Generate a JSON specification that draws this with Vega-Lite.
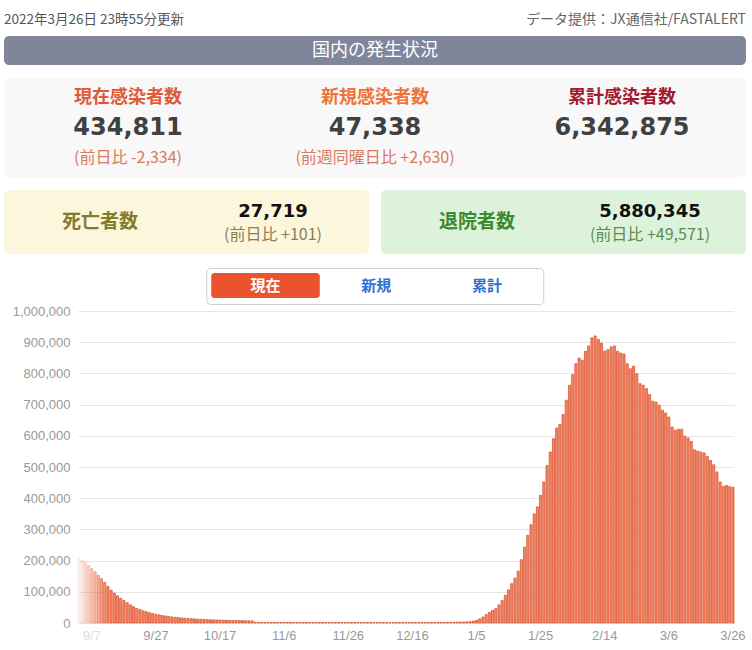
{
"$schema":"https://vega.github.io/schema/vega-lite/v6.json",
"background":"white",
"padding":{"left":4,"top":0,"right":0,"bottom":0},
"config":{"view":{"stroke":null},"font":"Noto Sans CJK JP"},
"datasets":{
"kpi":[{"k":"a","label":"現在感染者数","value":"434,811","sub":"(前日比 -2,334)"},{"k":"b","label":"新規感染者数","value":"47,338","sub":"(前週同曜日比 +2,630)"},{"k":"c","label":"累計感染者数","value":"6,342,875","sub":""}],
"cases":[
{"d":"2021-09-03","v":208000},{"d":"2021-09-04","v":201000},{"d":"2021-09-05","v":194000},{"d":"2021-09-06","v":184000},{"d":"2021-09-07","v":174000},{"d":"2021-09-08","v":164000},{"d":"2021-09-09","v":153000},{"d":"2021-09-10","v":142000},{"d":"2021-09-11","v":130000},{"d":"2021-09-12","v":117000},{"d":"2021-09-13","v":105000},{"d":"2021-09-14","v":96000},{"d":"2021-09-15","v":87000},{"d":"2021-09-16","v":79000},{"d":"2021-09-17","v":72000},{"d":"2021-09-18","v":65000},{"d":"2021-09-19","v":58000},{"d":"2021-09-20","v":52000},{"d":"2021-09-21","v":47000},{"d":"2021-09-22","v":43000},{"d":"2021-09-23","v":39000},{"d":"2021-09-24","v":36000},{"d":"2021-09-25","v":33000},{"d":"2021-09-26","v":30000},{"d":"2021-09-27","v":28000},{"d":"2021-09-28","v":26000},{"d":"2021-09-29","v":24000},{"d":"2021-09-30","v":22500},
{"d":"2021-10-01","v":21000},{"d":"2021-10-02","v":19500},{"d":"2021-10-03","v":18300},{"d":"2021-10-04","v":17200},{"d":"2021-10-05","v":16200},{"d":"2021-10-06","v":15300},{"d":"2021-10-07","v":14500},{"d":"2021-10-08","v":13800},{"d":"2021-10-09","v":13100},{"d":"2021-10-10","v":12500},{"d":"2021-10-11","v":11900},{"d":"2021-10-12","v":11400},{"d":"2021-10-13","v":10900},{"d":"2021-10-14","v":10500},{"d":"2021-10-15","v":10100},{"d":"2021-10-16","v":9700},{"d":"2021-10-17","v":9400},{"d":"2021-10-18","v":9100},{"d":"2021-10-19","v":8800},{"d":"2021-10-20","v":8500},{"d":"2021-10-21","v":8200},{"d":"2021-10-22","v":7900},{"d":"2021-10-23","v":7700},{"d":"2021-10-24","v":7500},{"d":"2021-10-25","v":7300},{"d":"2021-10-26","v":7100},{"d":"2021-10-27","v":6900},{"d":"2021-10-28","v":1900},{"d":"2021-10-29","v":1850},{"d":"2021-10-30","v":1800},{"d":"2021-10-31","v":1750},
{"d":"2021-11-01","v":1700},{"d":"2021-11-02","v":1690},{"d":"2021-11-03","v":1680},{"d":"2021-11-04","v":1660},{"d":"2021-11-05","v":1640},{"d":"2021-11-06","v":1620},{"d":"2021-11-07","v":1600},{"d":"2021-11-08","v":1580},{"d":"2021-11-09","v":1560},{"d":"2021-11-10","v":1540},{"d":"2021-11-11","v":1520},{"d":"2021-11-12","v":1500},{"d":"2021-11-13","v":1480},{"d":"2021-11-14","v":1460},{"d":"2021-11-15","v":1440},{"d":"2021-11-16","v":1420},{"d":"2021-11-17","v":1400},{"d":"2021-11-18","v":1390},{"d":"2021-11-19","v":1380},{"d":"2021-11-20","v":1370},{"d":"2021-11-21","v":1360},{"d":"2021-11-22","v":1350},{"d":"2021-11-23","v":1340},{"d":"2021-11-24","v":1330},{"d":"2021-11-25","v":1320},{"d":"2021-11-26","v":1310},{"d":"2021-11-27","v":1300},{"d":"2021-11-28","v":1290},{"d":"2021-11-29","v":1280},{"d":"2021-11-30","v":1270},
{"d":"2021-12-01","v":1260},{"d":"2021-12-02","v":1250},{"d":"2021-12-03","v":1240},{"d":"2021-12-04","v":1230},{"d":"2021-12-05","v":1220},{"d":"2021-12-06","v":1210},{"d":"2021-12-07","v":1200},{"d":"2021-12-08","v":1200},{"d":"2021-12-09","v":1200},{"d":"2021-12-10","v":1200},{"d":"2021-12-11","v":1200},{"d":"2021-12-12","v":1210},{"d":"2021-12-13","v":1220},{"d":"2021-12-14","v":1230},{"d":"2021-12-15","v":1240},{"d":"2021-12-16","v":1250},{"d":"2021-12-17","v":1260},{"d":"2021-12-18","v":1280},{"d":"2021-12-19","v":1300},{"d":"2021-12-20","v":1320},{"d":"2021-12-21","v":1350},{"d":"2021-12-22","v":1380},{"d":"2021-12-23","v":1420},{"d":"2021-12-24","v":1460},{"d":"2021-12-25","v":1500},{"d":"2021-12-26","v":1600},{"d":"2021-12-27","v":1750},{"d":"2021-12-28","v":2000},{"d":"2021-12-29","v":2300},{"d":"2021-12-30","v":2600},{"d":"2021-12-31","v":2900},
{"d":"2022-01-01","v":3200},{"d":"2022-01-02","v":3600},{"d":"2022-01-03","v":4200},{"d":"2022-01-04","v":6000},{"d":"2022-01-05","v":8500},{"d":"2022-01-06","v":13000},{"d":"2022-01-07","v":19000},{"d":"2022-01-08","v":27000},{"d":"2022-01-09","v":34000},{"d":"2022-01-10","v":40000},{"d":"2022-01-11","v":46000},{"d":"2022-01-12","v":58000},{"d":"2022-01-13","v":72000},{"d":"2022-01-14","v":89000},{"d":"2022-01-15","v":106000},{"d":"2022-01-16","v":126000},{"d":"2022-01-17","v":144000},{"d":"2022-01-18","v":166000},{"d":"2022-01-19","v":203000},{"d":"2022-01-20","v":243000},{"d":"2022-01-21","v":281000},{"d":"2022-01-22","v":315000},{"d":"2022-01-23","v":350000},{"d":"2022-01-24","v":372000},{"d":"2022-01-25","v":409000},{"d":"2022-01-26","v":452000},{"d":"2022-01-27","v":505000},{"d":"2022-01-28","v":548000},{"d":"2022-01-29","v":591000},{"d":"2022-01-30","v":625000},{"d":"2022-01-31","v":636000},
{"d":"2022-02-01","v":668000},{"d":"2022-02-02","v":714000},{"d":"2022-02-03","v":762000},{"d":"2022-02-04","v":796000},{"d":"2022-02-05","v":831000},{"d":"2022-02-06","v":849000},{"d":"2022-02-07","v":842000},{"d":"2022-02-08","v":871000},{"d":"2022-02-09","v":888000},{"d":"2022-02-10","v":914000},{"d":"2022-02-11","v":920000},{"d":"2022-02-12","v":909000},{"d":"2022-02-13","v":897000},{"d":"2022-02-14","v":871000},{"d":"2022-02-15","v":876000},{"d":"2022-02-16","v":885000},{"d":"2022-02-17","v":888000},{"d":"2022-02-18","v":871000},{"d":"2022-02-19","v":865000},{"d":"2022-02-20","v":862000},{"d":"2022-02-21","v":831000},{"d":"2022-02-22","v":815000},{"d":"2022-02-23","v":823000},{"d":"2022-02-24","v":799000},{"d":"2022-02-25","v":767000},{"d":"2022-02-26","v":762000},{"d":"2022-02-27","v":751000},{"d":"2022-02-28","v":732000},
{"d":"2022-03-01","v":711000},{"d":"2022-03-02","v":708000},{"d":"2022-03-03","v":698000},{"d":"2022-03-04","v":682000},{"d":"2022-03-05","v":673000},{"d":"2022-03-06","v":660000},{"d":"2022-03-07","v":628000},{"d":"2022-03-08","v":618000},{"d":"2022-03-09","v":621000},{"d":"2022-03-10","v":621000},{"d":"2022-03-11","v":599000},{"d":"2022-03-12","v":593000},{"d":"2022-03-13","v":582000},{"d":"2022-03-14","v":555000},{"d":"2022-03-15","v":551000},{"d":"2022-03-16","v":548000},{"d":"2022-03-17","v":545000},{"d":"2022-03-18","v":534000},{"d":"2022-03-19","v":521000},{"d":"2022-03-20","v":507000},{"d":"2022-03-21","v":484000},{"d":"2022-03-22","v":452000},{"d":"2022-03-23","v":438000},{"d":"2022-03-24","v":441000},{"d":"2022-03-25","v":437145},{"d":"2022-03-26","v":434811}
]},
"spacing":0,
"vconcat":[
{"spacing":13,"center":true,"vconcat":[
  {"spacing":0,"vconcat":[
    {"width":742,"height":36,
     "data":{"values":[{"side":"l","t":"2022年3月26日 23時55分更新"},{"side":"r","t":"データ提供：JX通信社/FASTALERT"}]},
     "encoding":{"x":{"field":"side","type":"nominal","scale":{"type":"point","domain":["l","r"],"range":[0,742],"padding":0},"axis":null},"text":{"field":"t"}},
     "layer":[
       {"transform":[{"filter":"datum.side=='l'"}],"mark":{"type":"text","align":"left","baseline":"middle","dy":1.5,"fontSize":13.5,"color":"#555555"}},
       {"transform":[{"filter":"datum.side=='r'"}],"mark":{"type":"text","align":"right","baseline":"middle","dy":1.5,"fontSize":14,"color":"#666666"}}
     ]},
    {"width":742,"height":29,"view":{"fill":"#7f8699","cornerRadius":5},
     "data":{"values":[{"t":"国内の発生状況"}]},
     "mark":{"type":"text","fontSize":18,"color":"white","baseline":"middle"},
     "encoding":{"text":{"field":"t"}}}
  ]},
  {"width":741,"height":99,"view":{"fill":"#f8f8f8","cornerRadius":4},
   "data":{"name":"kpi"},
   "encoding":{"x":{"field":"k","type":"nominal","scale":{"type":"band","domain":["a","b","c"],"paddingInner":0,"paddingOuter":0},"axis":null}},
   "layer":[
     {"mark":{"type":"text","fontSize":18,"fontWeight":"bold","baseline":"middle"},
      "encoding":{"text":{"field":"label"},
        "y":{"datum":"l","type":"nominal","scale":{"type":"point","domain":["l","v","s"],"range":[20,80],"padding":0},"axis":null},
        "color":{"field":"k","type":"nominal","scale":{"domain":["a","b","c"],"range":["#e05a3a","#ef7439","#a4192f"]},"legend":null}}},
     {"mark":{"type":"text","fontSize":24,"fontWeight":"bold","font":"DejaVu Sans","color":"#404040","baseline":"middle"},
      "encoding":{"text":{"field":"value"},
        "y":{"datum":"v","type":"nominal","scale":{"type":"point","domain":["l","v","s"],"range":[20,80],"padding":0},"axis":null}}},
     {"mark":{"type":"text","fontSize":16,"color":"#d97b5c","baseline":"middle"},
      "encoding":{"text":{"field":"sub"},
        "y":{"datum":"s","type":"nominal","scale":{"type":"point","domain":["l","v","s"],"range":[20,80],"padding":0},"axis":null}}}
   ]},
  {"spacing":12,"hconcat":[
    {"width":365,"height":64,"view":{"fill":"#fcf7dc","cornerRadius":5},
     "data":{"values":[{"label":"死亡者数","value":"27,719","sub":"(前日比 +101)"}]},
     "layer":[
       {"mark":{"type":"text","fontSize":19,"fontWeight":"bold","color":"#857b2b","baseline":"middle"},
        "encoding":{"text":{"field":"label"},"x":{"datum":"a","type":"nominal","scale":{"type":"point","domain":["a","b"],"range":[96,269],"padding":0},"axis":null}}},
       {"mark":{"type":"text","fontSize":18,"fontWeight":"bold","font":"DejaVu Sans","color":"#111111","baseline":"middle"},
        "encoding":{"text":{"field":"value"},"x":{"datum":"b","type":"nominal","scale":{"type":"point","domain":["a","b"],"range":[96,269],"padding":0},"axis":null},
          "y":{"datum":"v","type":"nominal","scale":{"type":"point","domain":["v","s"],"range":[21.5,44.5],"padding":0},"axis":null}}},
       {"mark":{"type":"text","fontSize":16,"color":"#8a7f55","baseline":"middle"},
        "encoding":{"text":{"field":"sub"},"x":{"datum":"b","type":"nominal","scale":{"type":"point","domain":["a","b"],"range":[96,269],"padding":0},"axis":null},
          "y":{"datum":"s","type":"nominal","scale":{"type":"point","domain":["v","s"],"range":[21.5,44.5],"padding":0},"axis":null}}}
     ]},
    {"width":365,"height":64,"view":{"fill":"#ddf2db","cornerRadius":5},
     "data":{"values":[{"label":"退院者数","value":"5,880,345","sub":"(前日比 +49,571)"}]},
     "layer":[
       {"mark":{"type":"text","fontSize":19,"fontWeight":"bold","color":"#3b8a2e","baseline":"middle"},
        "encoding":{"text":{"field":"label"},"x":{"datum":"a","type":"nominal","scale":{"type":"point","domain":["a","b"],"range":[96,269],"padding":0},"axis":null}}},
       {"mark":{"type":"text","fontSize":18,"fontWeight":"bold","font":"DejaVu Sans","color":"#111111","baseline":"middle"},
        "encoding":{"text":{"field":"value"},"x":{"datum":"b","type":"nominal","scale":{"type":"point","domain":["a","b"],"range":[96,269],"padding":0},"axis":null},
          "y":{"datum":"v","type":"nominal","scale":{"type":"point","domain":["v","s"],"range":[21.5,44.5],"padding":0},"axis":null}}},
       {"mark":{"type":"text","fontSize":16,"color":"#5c8c50","baseline":"middle"},
        "encoding":{"text":{"field":"sub"},"x":{"datum":"b","type":"nominal","scale":{"type":"point","domain":["a","b"],"range":[96,269],"padding":0},"axis":null},
          "y":{"datum":"s","type":"nominal","scale":{"type":"point","domain":["v","s"],"range":[21.5,44.5],"padding":0},"axis":null}}}
     ]}
  ]},
  {"width":337,"height":36,"view":{"fill":"white","stroke":"#cfcfcf","strokeWidth":1,"cornerRadius":4},
   "data":{"values":[{"b":"現在","sel":1},{"b":"新規","sel":0},{"b":"累計","sel":0}]},
   "encoding":{
     "x":{"field":"b","type":"nominal","sort":null,"scale":{"type":"band","domain":["現在","新規","累計"],"range":[5,335],"paddingInner":0.02,"paddingOuter":0},"axis":null},
     "y":{"datum":"btn","type":"nominal","scale":{"type":"band","domain":["btn"],"range":[5,30],"paddingInner":0,"paddingOuter":0},"axis":null}},
   "layer":[
     {"transform":[{"filter":"datum.sel==1"}],"mark":{"type":"rect","color":"#e9542f","cornerRadius":3}},
     {"mark":{"type":"text","fontSize":15,"fontWeight":"bold","baseline":"middle"},
      "encoding":{"text":{"field":"b"},"color":{"condition":{"test":"datum.sel==1","value":"white"},"value":"#2f6fd0"}}}
   ]}
]},
{"spacing":0,"hconcat":[
{"width":1,"height":1,"data":{"values":[{"a":""}]},"mark":{"type":"text","opacity":0},"encoding":{"text":{"field":"a"}}},
{"width":656,"height":312,
 "data":{"name":"cases"},
 "mark":{"type":"bar","fill":"#f68b6b","stroke":"#d9522e","strokeWidth":0.8},
 "encoding":{
   "x":{"field":"d","type":"ordinal","scale":{"paddingInner":0.35,"paddingOuter":0},
     "axis":{"title":null,"values":["2021-09-07","2021-09-27","2021-10-17","2021-11-06","2021-11-26","2021-12-16","2022-01-05","2022-01-25","2022-02-14","2022-03-06","2022-03-26"],
       "labelExpr":"parseInt(slice(datum.value,5,7)) + '/' + parseInt(slice(datum.value,8,10))",
       "labelAngle":0,"ticks":false,"domain":false,"labelFont":"Liberation Sans","labelFontSize":13,"labelPadding":6,
       "labelColor":{"condition":{"test":"datum.value == '2021-09-07'","value":"#dddddd"},"value":"#999999"}}},
   "y":{"field":"v","type":"quantitative","scale":{"domain":[0,1000000]},
     "axis":{"title":null,"values":[0,100000,200000,300000,400000,500000,600000,700000,800000,900000,1000000],"format":",d",
       "domain":false,"ticks":false,"gridColor":"#e6e6e6","labelColor":"#999999","labelFont":"Liberation Sans","labelFontSize":13,"labelPadding":8,"minExtent":73}},
   "opacity":{"condition":[
     {"test":"datum.d <= '2021-09-03'","value":0.12},
     {"test":"datum.d <= '2021-09-04'","value":0.2},
     {"test":"datum.d <= '2021-09-05'","value":0.3},
     {"test":"datum.d <= '2021-09-06'","value":0.4},
     {"test":"datum.d <= '2021-09-07'","value":0.5},
     {"test":"datum.d <= '2021-09-08'","value":0.6},
     {"test":"datum.d <= '2021-09-09'","value":0.7},
     {"test":"datum.d <= '2021-09-10'","value":0.8},
     {"test":"datum.d <= '2021-09-11'","value":0.9}],"value":1}
 }}
]}
]
}
